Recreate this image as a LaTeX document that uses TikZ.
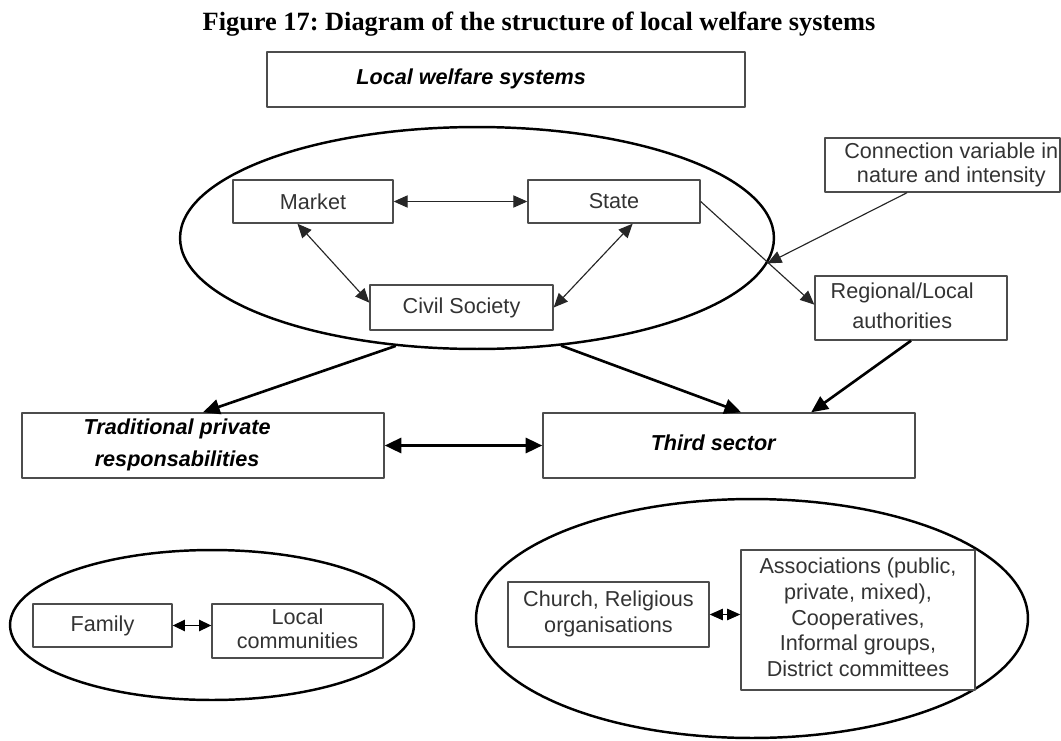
\documentclass[tikz,border=0pt]{standalone}
\usepackage{fontspec}
\setmainfont{Liberation Sans}
\newfontfamily\figfont{Liberation Serif}
\usetikzlibrary{shapes.geometric,arrows.meta}
\newcommand{\boxtxt}[2][0pt]{\begin{tabular}{@{}c@{}}#2\end{tabular}\hspace*{#1}}
\frenchspacing
\begin{document}
\begin{tikzpicture}[x=0.02cm, y=-0.02cm, line join=round,
	>={Triangle[length=8pt,width=7pt]},
	box/.style={draw=black!70, fill=white, line width=0.8pt, text=black!80, inner sep=0pt},
	oval/.style={ellipse, draw, line width=1.4pt, inner sep=0pt},
	link/.style={<->, line width=0.65pt, black!85},
	flow/.style={->, line width=1.5pt, >={Triangle[length=9.5pt,width=8.5pt]}}]
	\def\fs{\fontsize{12.3}{14.6}\selectfont}
	\useasboundingbox (0,0) rectangle (1061,740);
	\node[font=\figfont\fontsize{15}{18}\selectfont\bfseries, anchor=base] (title) at (539,31) {Figure 17: Diagram of the structure of local welfare systems};
	\node[box, font=\fs\bfseries\itshape, text=black, minimum width=9.56cm, minimum height=1.1cm] (lws) at (506,79.5) {\boxtxt[39.7pt]{Local welfare systems}};
	% ovals
	\node[oval, minimum width=11.88cm, minimum height=4.44cm] (welfare) at (477,238) {};
	\node[oval, minimum width=8.08cm, minimum height=3cm] (private) at (212,625) {};
	\node[oval, minimum width=11.04cm, minimum height=4.78cm] (sector) at (752,618.5) {};
	% boxes
	\node[box, font=\fs, minimum width=3.2cm, minimum height=0.86cm] (market) at (313,201.5) {Market};
	\node[box, font=\fs, minimum width=3.44cm, minimum height=0.86cm] (state) at (614,201.5) {State};
	\node[box, font=\fs, minimum width=3.66cm, minimum height=0.9cm] (civil) at (461.5,307.5) {Civil Society};
	\node[box, font=\fs, minimum width=3.84cm, minimum height=1.28cm] (regional) at (911,308) {\boxtxt[10pt]{Regional/Local\\[2.5pt]authorities}};
	\node[box, font=\fs, minimum width=4.7cm, minimum height=1.08cm] (conn) at (942.5,165) {\boxtxt[-10pt]{Connection variable in\\[-1pt]nature and intensity}};
	\node[box, font=\fs\bfseries\itshape, text=black, minimum width=7.24cm, minimum height=1.3cm] (trad) at (203,445.5) {\boxtxt[29.5pt]{Traditional private\\[4pt]responsabilities}};
	\node[box, font=\fs\bfseries\itshape, text=black, minimum width=7.44cm, minimum height=1.3cm] (third) at (729,445.5) {\boxtxt[18pt]{Third sector}};
	\node[box, font=\fs, minimum width=2.78cm, minimum height=0.86cm] (family) at (102.5,625.5) {Family};
	\node[box, font=\fs, minimum width=3.42cm, minimum height=1.08cm] (loccom) at (297.5,631) {\boxtxt{Local\\[-1pt]communities}};
	\node[box, font=\fs, minimum width=4.02cm, minimum height=1.3cm] (church) at (608.5,614.5) {\boxtxt{Church, Religious\\organisations}};
	\node[box, font=\fs, minimum width=4.68cm, minimum height=2.8cm] (assoc) at (858,620) {\boxtxt{Associations (public,\\private, mixed),\\Cooperatives,\\Informal groups,\\District committees}};
	% connections
	\draw[link] (market) -- (state);
	\draw[link] (market.235) -- (civil.177);
	\draw[link] (state.310) -- (civil.east);
	\draw[->, line width=0.65pt, black!85] (state.east) -- (regional.178);
	\draw[->, line width=0.65pt, black!85] (conn.218) -- (welfare.-5);
	\draw[flow] (welfare.233) -- (trad.north);
	\draw[flow] (welfare.-52) -- (third.70);
	\draw[flow] (regional.south) -- (third.22);
	\draw[flow, <->, line width=1.9pt] (trad) -- (third);
	\draw[<->, line width=0.7pt, >={Triangle[length=7pt,width=6.5pt]}] (family.east) -- (family.east -| loccom.west);
	\draw[<->, line width=0.7pt, >={Triangle[length=7.5pt,width=6.5pt]}] (church.east) -- (church.east -| assoc.west);
\end{tikzpicture}
\end{document}
